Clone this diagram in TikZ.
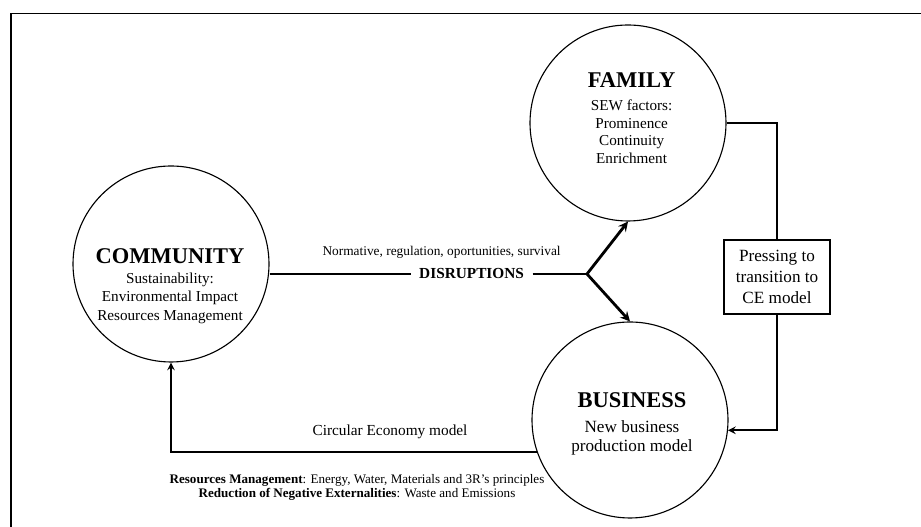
\documentclass[tikz,border=0pt]{standalone}
\usepackage{fontspec}
\setmainfont{Liberation Serif}

\begin{document}
\begin{tikzpicture}[>=stealth,every text node part/.style={align=center},
  actor/.style={draw,circle,line width=0.8pt,minimum size=4.9cm,inner sep=0pt},
  flow/.style={line width=1.4pt},
  disrupt/.style={line width=2pt},
  sub/.style={font=\fontsize{10.8}{13.1}\selectfont}]

\useasboundingbox (0,0) rectangle (23.025,13.175);
\draw [line width=1.4pt] (0.275,0) -- (0.275,12.8375) -- (23.025,12.8375);

%%%%%%%%%%%%%%%%%%%%%%%%%%%%%%%%%%%%%%

\node[actor] (comm) at (4.275,6.575) {};
\node[actor] (fam) at (15.7,10.1) {};
\node[actor] (bus) at (15.75,2.675) {};

\node[sub] (commtxt) at (4.25,6.025) {{\fontsize{16}{16}\selectfont\bfseries COMMUNITY}\\[1pt]
  Sustainability:\\ Environmental Impact\\ Resources Management};
\node[sub,font=\fontsize{10.8}{12.6}\selectfont] (famtxt) at (15.79,10.225) {{\fontsize{16}{16}\selectfont\bfseries FAMILY}\\[4pt]
  SEW factors:\\ Prominence\\ Continuity\\ Enrichment};
\node[sub,font=\fontsize{12.2}{13.5}\selectfont] (bustxt) at (15.8,2.575) {{\fontsize{16}{16}\selectfont\bfseries BUSINESS}\\[4pt]
  New business\\ production model};

\node[draw,line width=0.8pt,font=\fontsize{12.2}{15}\selectfont,minimum width=2.65cm,minimum height=1.85cm,inner sep=1pt] (press) at (19.425,6.25) {Pressing to\\transition to\\CE model};

%%%%%%%%%%%%%%%%%%%%%%%%%%%%%%%%%%%%%%

\node[font=\fontsize{10.9}{13}\selectfont\bfseries,inner xsep=6pt] (disr) at (11.79,6.325) {DISRUPTIONS};
\node[font=\fontsize{9.5}{11}\selectfont] (norm) at (11.04,6.875) {Normative, regulation, oportunities, survival};
\coordinate (split) at (14.675,6.325);

\draw[disrupt] (comm.east |- disr.west) -- (disr.west);
\draw[disrupt] (disr.east) -- (split);
\draw[disrupt,->] (split) -- (fam.south);
\draw[disrupt,->] (split) -- (bus.north);

\draw[flow] (fam.east) -| (press.north);
\draw[flow,->] (press.south) |- (bus.-6);
\draw[flow,->] (bus.199) -| (comm.south);

\node[font=\fontsize{10.9}{13}\selectfont] (ce) at (9.75,2.375) {Circular Economy model};
\node[font=\fontsize{9.3}{10.2}\selectfont] (notes) at (8.925,0.99) {\textbf{Resources Management}: Energy, Water, Materials and 3R’s principles\\
  \textbf{Reduction of Negative Externalities}: Waste and Emissions};

\end{tikzpicture}
\end{document}
